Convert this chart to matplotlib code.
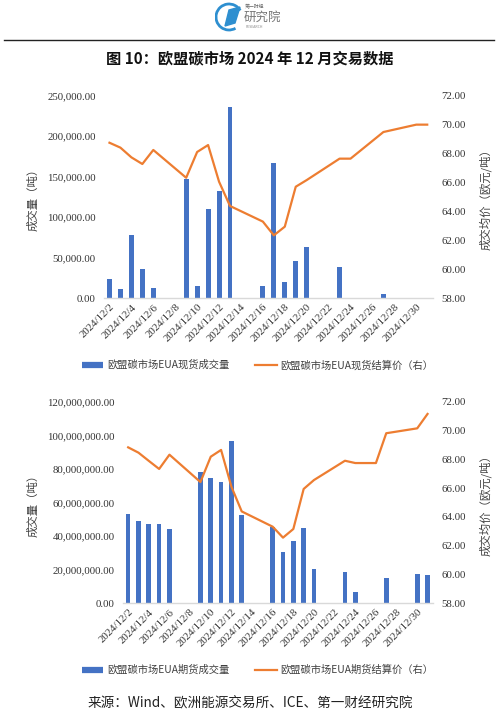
import numpy as np
import pandas as pd
import matplotlib
matplotlib.use("Agg")
import matplotlib.pyplot as plt
from matplotlib.patches import Polygon, Arc
from matplotlib.ticker import FuncFormatter, MultipleLocator

plt.rcParams['font.family'] = ['Noto Sans CJK SC', 'DejaVu Sans']

# ── Данные ────────────────────────────────────────────────────────────────────
# Спот EUA
spot_dates = ["2024-12-02", "2024-12-03", "2024-12-04", "2024-12-05", "2024-12-06",
              "2024-12-09", "2024-12-10", "2024-12-11", "2024-12-12", "2024-12-13",
              "2024-12-16", "2024-12-17", "2024-12-18", "2024-12-19", "2024-12-20",
              "2024-12-23", "2024-12-24", "2024-12-27", "2024-12-30", "2024-12-31"]
spot_volume = [24000, 11100, 77700, 35800, 13200,
               147200, 15600, 110200, 132000, 235600,
               14800, 167400, 20600, 46500, 62900,
               38700, 0, 5400, 0, 0]
spot_price = [68.75, 68.41, 67.74, 67.28, 68.25,
              66.33, 68.11, 68.59, 66.06, 64.38,
              63.30, 62.35, 62.95, 65.71, 66.17,
              67.65, 67.65, 69.49, 70.00, 70.00]

# Фьючерсы EUA
fut_vol_dates = ["2024-12-02", "2024-12-03", "2024-12-04", "2024-12-05", "2024-12-06",
                 "2024-12-09", "2024-12-10", "2024-12-11", "2024-12-12", "2024-12-13",
                 "2024-12-16", "2024-12-17", "2024-12-18", "2024-12-19", "2024-12-20",
                 "2024-12-23", "2024-12-24", "2024-12-27", "2024-12-30", "2024-12-31"]
fut_volume = [53.0e6, 49.0e6, 47.0e6, 47.0e6, 44.0e6,
              78.0e6, 74.4e6, 72.4e6, 96.6e6, 52.6e6,
              45.6e6, 30.7e6, 37.1e6, 44.6e6, 20.6e6,
              18.6e6, 6.9e6, 15.3e6, 17.3e6, 17.1e6]
fut_price_dates = ["2024-12-02", "2024-12-03", "2024-12-04", "2024-12-05", "2024-12-06",
                   "2024-12-09", "2024-12-10", "2024-12-11", "2024-12-12", "2024-12-13",
                   "2024-12-16", "2024-12-17", "2024-12-18", "2024-12-19", "2024-12-20",
                   "2024-12-23", "2024-12-24", "2024-12-26", "2024-12-27", "2024-12-30",
                   "2024-12-31"]
fut_price = [68.83, 68.46, 67.89, 67.33, 68.32,
             66.42, 68.18, 68.65, 66.10, 64.38,
             63.32, 62.56, 63.16, 65.94, 66.56,
             67.90, 67.74, 67.74, 69.81, 70.15,
             71.15]

start = pd.Timestamp("2024-12-02")
tick_days = pd.date_range("2024-12-02", "2024-12-30", freq="2D")
tick_labels = [f"{d.year}/{d.month}/{d.day}" for d in tick_days]

BLUE = "#4472C4"
ORANGE = "#ED7D31"
TXT = "#333333"
SERIF = ["Liberation Serif", "DejaVu Serif"]


def _days(dates):
    return (pd.to_datetime(dates) - start).days.values


def panel(fig, rect, bar_dates, vol, line_dates, price, ymax, ystep):
    W, H = 500, 712
    l, t, r, b = rect
    ax = fig.add_axes([l / W, 1 - b / H, (r - l) / W, (b - t) / H])
    ax2 = ax.twinx()
    ax.bar(_days(bar_dates), vol, width=0.45, color=BLUE, zorder=2)
    ax2.plot(_days(line_dates), price, color=ORANGE, lw=1.6, zorder=3)

    ax.set_xlim(-0.5, 29.5)
    ax.set_ylim(0, ymax)
    ax.yaxis.set_major_locator(MultipleLocator(ystep))
    ax.yaxis.set_major_formatter(FuncFormatter(lambda v, p: f"{v:,.2f}"))
    ax2.set_ylim(58, 72)
    ax2.yaxis.set_major_locator(MultipleLocator(2))
    ax2.yaxis.set_major_formatter(FuncFormatter(lambda v, p: f"{v:.2f}"))

    ax.set_xticks((tick_days - start).days.values)
    ax.set_xticklabels(tick_labels, rotation=45, ha="right", rotation_mode="anchor",
                       family=SERIF, fontsize=7.8, color=TXT)
    for a in (ax, ax2):
        for s in a.spines.values():
            s.set_visible(False)
        a.tick_params(length=0, labelsize=7.8, colors=TXT)
    for lab in ax.get_yticklabels() + ax2.get_yticklabels():
        lab.set_family(SERIF)
    ax.tick_params(axis="y", pad=6)
    ax2.tick_params(axis="y", pad=6)
    ax.tick_params(axis="x", pad=3)
    ax.spines["bottom"].set_visible(True)
    ax.spines["bottom"].set_color("#D9D9D9")
    ax.spines["bottom"].set_linewidth(1.0)
    ax.set_ylabel("成交量（吨）", fontsize=8.2, color="#404040", labelpad=6)
    ax2.set_ylabel("成交均价（欧元/吨）", fontsize=8.2, color="#404040", labelpad=10)
    return ax, ax2


fig = plt.figure(figsize=(5.0, 7.12), dpi=100)

# ── Шапка ─────────────────────────────────────────────────────────────────────
fig.add_artist(plt.Line2D([4 / 500, 494 / 500], [1 - 40 / 712] * 2,
                          color="#222222", lw=1.0))
logo_ax = fig.add_axes([215 / 500, 1 - 32 / 712, 70 / 500, 30 / 712])
logo_ax.set_xlim(0, 70); logo_ax.set_ylim(30, 0); logo_ax.axis("off")
logo_ax.add_patch(Arc((14, 15), 26, 26, theta1=60, theta2=330, color="#2E8FD0", lw=2))
logo_ax.add_patch(Polygon([[10, 24], [14, 8], [25, 5], [20, 21]], closed=True, color="#2E8FD0"))
logo_ax.text(30, 5, "第一财经", fontsize=3.5, color="#666666", va="center")
logo_ax.text(29, 15, "研究院", fontsize=9, color="#777777", va="center")
logo_ax.text(31, 25, "RESEARCH", fontsize=2.5, color="#888888", va="center")

fig.text(0.5, 1 - 58 / 712, "图 10：欧盟碳市场 2024 年 12 月交易数据",
         ha="center", va="center", fontsize=11, fontweight="bold", color="#111111")

# ── Панели ────────────────────────────────────────────────────────────────────
panel(fig, (104, 95.7, 432.7, 298.3), spot_dates, spot_volume,
      spot_dates, spot_price, 250000, 50000)
panel(fig, (123, 401.7, 432.7, 603.3), fut_vol_dates, fut_volume,
      fut_price_dates, fut_price, 120e6, 20e6)


def legend_row(y, bar_label, line_label):
    yy = 1 - y / 712
    fig.add_artist(plt.Line2D([82 / 500, 103 / 500], [yy, yy], color=BLUE, lw=4.5,
                              solid_capstyle="butt"))
    fig.text(107 / 500, yy, bar_label, va="center", fontsize=7.4, color="#404040")
    fig.add_artist(plt.Line2D([255 / 500, 277 / 500], [yy, yy], color=ORANGE, lw=1.6))
    fig.text(280 / 500, yy, line_label, va="center", fontsize=7.4, color="#404040")


legend_row(365, "欧盟碳市场EUA现货成交量", "欧盟碳市场EUA现货结算价（右）")
legend_row(670, "欧盟碳市场EUA期货成交量", "欧盟碳市场EUA期货结算价（右）")

fig.text(0.5, 1 - 702 / 712, "来源：Wind、欧洲能源交易所、ICE、第一财经研究院",
         ha="center", va="center", fontsize=9.8, color="#222222")

fig.savefig("out.png", dpi=100)
